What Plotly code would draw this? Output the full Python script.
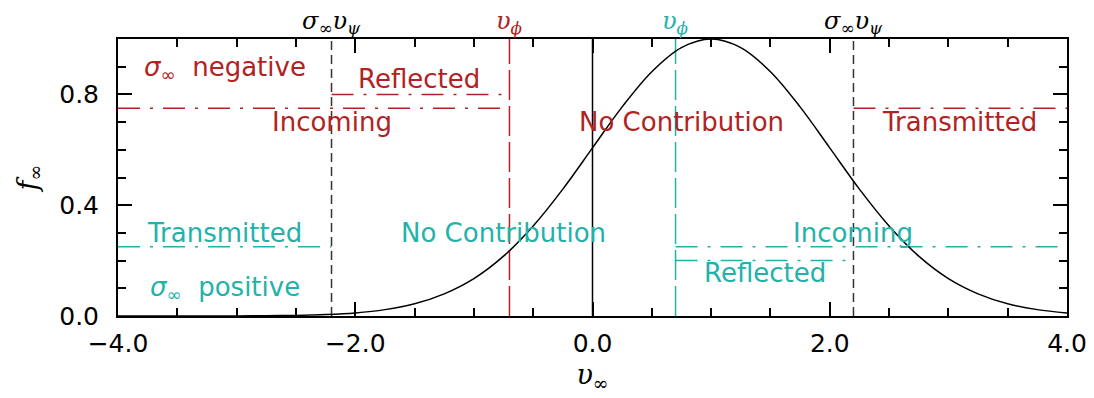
import plotly.graph_objects as go

# distribution curve
v_inf = [-4.0, -3.75, -3.5, -3.25, -3.0, -2.75, -2.5, -2.25, -2.0, -1.75, -1.5,
         -1.25, -1.0, -0.75, -0.5, -0.25, 0.0, 0.25, 0.5, 0.75, 1.0, 1.25, 1.5,
         1.75, 2.0, 2.25, 2.5, 2.75, 3.0, 3.25, 3.5, 3.75, 4.0]
f_inf = [0.0, 0.0, 0.0, 0.0001, 0.0003, 0.0009, 0.0022, 0.0051, 0.011, 0.023, 0.044,
         0.080, 0.135, 0.216, 0.325, 0.458, 0.607, 0.755, 0.882, 0.969, 1.0, 0.969, 0.882,
         0.755, 0.607, 0.458, 0.325, 0.216, 0.135, 0.080, 0.044, 0.023, 0.011]

v_psi = [-2.2, 2.2]          # sigma_inf * v_psi markers
v_phi_neg = -0.7
v_phi_pos = 0.7

# horizontal segments: (x0, x1, y)
red_segments = [(-4.0, -0.7, 0.75), (-2.2, -0.7, 0.80), (2.2, 4.0, 0.75)]
cyan_segments = [(-4.0, -2.2, 0.25), (0.7, 4.0, 0.25), (0.7, 2.2, 0.20)]

# region labels: (text, x, y)
red_labels = [("<i>σ</i><sub>∞</sub>  negative", -3.1, 0.893), ("Reflected", -1.46, 0.855),
              ("Incoming", -2.2, 0.70), ("No Contribution", 0.75, 0.70),
              ("Transmitted", 3.09, 0.70)]
cyan_labels = [("Transmitted", -3.1, 0.30), ("No Contribution", -0.75, 0.30),
               ("Incoming", 2.2, 0.30), ("Reflected", 1.45, 0.155),
               ("<i>σ</i><sub>∞</sub>  positive", -3.1, 0.10)]

RED = "#B22222"
CYAN = "#22B2AA"
FONT = "DejaVu Sans"
SERIF = "DejaVu Serif"

fig = go.Figure()

dashdot = "22px,10px,3px,10px"
for x0, x1, y in red_segments:
    fig.add_trace(go.Scatter(x=[x0, x1], y=[y, y], mode="lines",
                             line=dict(color=RED, width=1.5, dash=dashdot)))
for x0, x1, y in cyan_segments:
    fig.add_trace(go.Scatter(x=[x0, x1], y=[y, y], mode="lines",
                             line=dict(color=CYAN, width=1.5, dash=dashdot)))

for xv in v_psi:
    fig.add_trace(go.Scatter(x=[xv, xv], y=[0, 1], mode="lines",
                             line=dict(color="#333333", width=1.5, dash="9px,5px")))
fig.add_trace(go.Scatter(x=[v_phi_neg, v_phi_neg], y=[0, 1], mode="lines",
                         line=dict(color=RED, width=1.5, dash="30px,6px")))
fig.add_trace(go.Scatter(x=[v_phi_pos, v_phi_pos], y=[0, 1], mode="lines",
                         line=dict(color=CYAN, width=1.5, dash="30px,6px")))
fig.add_trace(go.Scatter(x=[0, 0], y=[0, 1], mode="lines",
                         line=dict(color="black", width=1.5)))

fig.add_trace(go.Scatter(x=v_inf, y=f_inf, mode="lines", line_shape="spline",
                         line=dict(color="black", width=1.5)))

for txt, x, y in red_labels:
    fig.add_annotation(x=x, y=y, text=txt, showarrow=False,
                       font=dict(family=FONT, size=26, color=RED))
for txt, x, y in cyan_labels:
    fig.add_annotation(x=x, y=y, text=txt, showarrow=False,
                       font=dict(family=FONT, size=26, color=CYAN))

# labels above the frame
top = [("<i>σ</i><sub>∞</sub><i>υ</i><sub><i>ψ</i></sub>", v_psi[0], "black"),
       ("<i>σ</i><sub>∞</sub><i>υ</i><sub><i>ψ</i></sub>", v_psi[1], "black"),
       ("<i>υ</i><sub><i>ϕ</i></sub>", v_phi_neg, RED),
       ("<i>υ</i><sub><i>ϕ</i></sub>", v_phi_pos, CYAN)]
for txt, x, c in top:
    fig.add_annotation(x=x, y=1.0, yref="paper", yanchor="bottom", yshift=-1,
                       text=txt, showarrow=False,
                       font=dict(family=SERIF, size=24, color=c))

axis_common = dict(showgrid=False, zeroline=False, showline=True, linecolor="black",
                   linewidth=2, mirror="allticks", ticks="inside", tickcolor="black",
                   tickwidth=1.5, tickfont=dict(family=FONT, size=25, color="black"))

fig.update_xaxes(range=[-4, 4], tick0=-4, dtick=2, ticklen=14, tickformat=".1f",
                 ticklabelstandoff=4,
                 minor=dict(dtick=0.5, ticklen=8, ticks="inside", tickcolor="black", tickwidth=1.5),
                 title=dict(text="<i>υ</i><sub>∞</sub>",
                            font=dict(family=SERIF, size=27, color="black"), standoff=8),
                 **axis_common)
fig.update_yaxes(range=[0, 1], tick0=0, dtick=0.4, ticklen=14, tickformat=".1f",
                 ticklabelstandoff=12,
                 minor=dict(dtick=0.1, ticklen=8, ticks="inside", tickcolor="black", tickwidth=1.5),
                 title=dict(text="<i>f</i><sub>∞</sub>",
                            font=dict(family=SERIF, size=27, color="black"), standoff=14),
                 **axis_common)

# page body adds an 8px offset, so the figure is shrunk by that much
fig.update_layout(width=1086, height=390, template="plotly_white", showlegend=False,
                  plot_bgcolor="white", paper_bgcolor="white",
                  margin=dict(l=110, r=27, t=31, b=82, autoexpand=False))

fig.write_html("out.html")
